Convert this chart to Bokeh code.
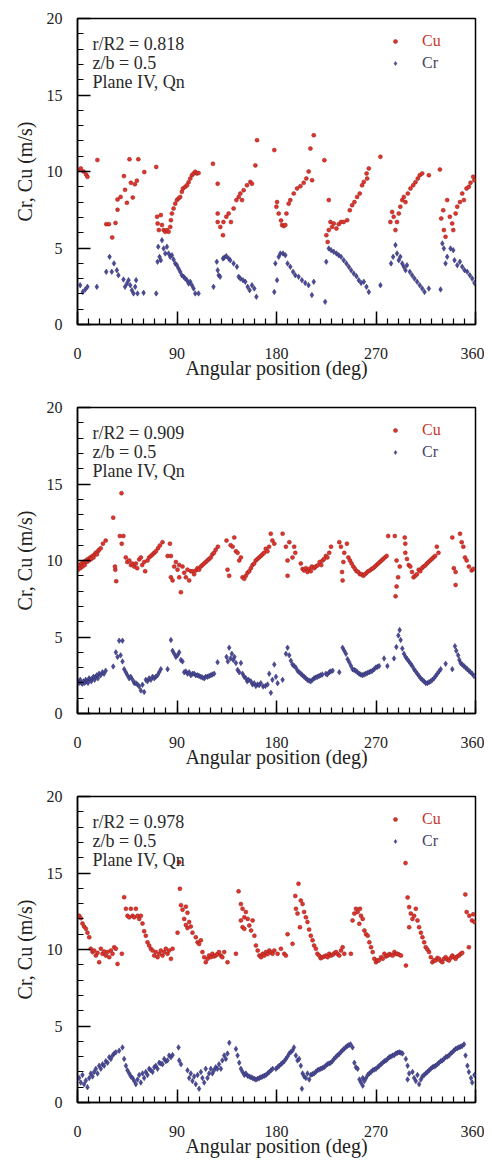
from bokeh.plotting import figure
from bokeh.models import Range1d, SingleIntervalTicker, Label, Legend, LegendItem
from bokeh.layouts import column
from bokeh.embed import file_html
from bokeh.resources import INLINE

# ---------------- data: panel 1 (r/R2 = 0.818) ----------------
cu1_deg = [1.2, 3, 5.4, 7.8, 9, 18,
           26, 28.4, 31.4, 34.4, 36.2, 36.2, 39, 42, 43, 44.7, 47, 48.3, 50, 51.9, 53.7, 55, 60.4, 71.2,
           72, 72.5, 73.6, 75.4, 76.4, 77.9, 79.4, 80.9, 82.4, 83.9, 84.5, 85.4, 86.9, 88.4, 89.9, 91.4, 92.9, 94.4, 95.4, 97.5, 99, 100.5, 102, 103.5, 105, 106.5, 108, 109.5,
           122.5, 126.8, 126.8, 126.8, 129.2, 131.6, 132, 134.6, 136.7, 138.8, 141.2, 143.7, 145.8, 147.3, 148.8, 150.3, 153.3, 156.3, 157.8, 160.9, 162.4,
           178, 179.9, 180.5, 182, 184.1, 185, 186.5, 188, 189, 191, 192.5, 195.6, 198.6, 201.6, 204.6, 207, 209.1, 210.7, 212.2, 213.7,
           223.3, 225.1, 226.3, 227.3, 227.3, 228.8, 230.3, 231.8, 234.2, 236.3, 238.4, 240.8, 243.9, 246.3, 248.4, 250.5, 252.9, 255.3, 257.4, 259, 261.5, 262, 263.5, 274,
           283, 284.6, 286, 287.6, 289, 290.6, 292, 293.7, 295.2, 296.7, 298.8, 301.2, 303.6, 305.7, 307.8, 309.6, 311.8, 317.8,
           327.8, 329, 330.8, 331.4, 332.9, 334.4, 336.8, 338.9, 339.9, 342, 343.5, 345.9, 348, 349.5, 351.9, 354, 355.5, 357.9, 359]
cu1_val = [10.1, 10.2, 10.0, 9.8, 9.65, 10.75,
           6.56, 6.56, 5.69, 6.64, 7.5, 8.17, 8.34, 9.7, 8.8, 7.95, 10.8, 9.26, 8.3, 9.17, 9.4, 10.8, 9.96, 10.3,
           7.04, 6.6, 6.17, 7.15, 6.5, 6.17, 6.06, 6.17, 6.06, 6.38, 6.82, 7.25, 7.58, 7.9, 8.13, 8.24, 8.34, 8.67, 8.89, 9.0, 9.1, 9.3, 9.54, 9.76, 9.87, 9.98, 9.87, 9.9,
           10.5, 9.2, 7.25, 6.7, 6.38, 5.84, 6.7, 7.04, 7.25, 6.7, 7.58, 8.13, 8.34, 8.56, 8.13, 8.78, 9.1, 9.32, 9.2, 10.4, 12.05,
           11.4, 7.7, 8.0, 7.25, 6.8, 6.5, 6.43, 6.5, 7.25, 7.9, 8.13, 8.56, 8.89, 9.04, 9.26, 9.54, 10.0, 11.5, 9.43, 12.37,
           10.74, 5.84, 5.4, 6.17, 8.13, 6.7, 6.38, 6.6, 6.27, 6.56, 6.7, 6.7, 6.82, 7.47, 7.8, 8.0, 8.34, 8.56, 9.1, 9.32, 9.87, 9.54, 10.2, 10.96,
           6.7, 7.36, 7.04, 6.17, 6.7, 7.25, 7.7, 8.13, 8.34, 8.0, 8.56, 8.89, 9.1, 9.3, 9.54, 9.76, 9.87, 9.76,
           10.13, 6.93, 7.47, 6.17, 5.73, 8.13, 7.04, 6.6, 6.17, 7.25, 7.7, 8.0, 8.56, 8.13, 8.89, 9.0, 9.26, 9.65, 9.43]
cr1_deg = [2.4, 4.8, 7, 9, 17.5,
           26, 29, 31, 33, 35.6, 37, 41.6, 43, 44.7, 46.2, 47.7, 49.2, 50.7, 52.2, 53, 54.3, 59.8, 71.2,
           72.4, 73, 74.2, 75.4, 76.4, 77.9, 79.4, 80.9, 82.4, 83.9, 85.4, 86.9, 88.4, 89.9, 91.4, 92.9, 94.4, 96, 97.5, 99, 100.5, 102, 103.5, 105, 106.5, 109.5,
           123, 126, 126.8, 127.7, 129, 131.6, 132.8, 134.6, 136.7, 138.2, 141.2, 144.2, 145.8, 147.3, 149.7, 151.8, 153.9, 155.7, 157.8, 159.9, 161.8,
           178, 179, 180.5, 182, 183.5, 185.9, 188, 190, 192.5, 195, 197, 200, 203, 206, 209, 212, 213.7,
           224, 225, 227.3, 229.4, 231.8, 234.2, 236.3, 238.4, 240.8, 243.2, 245.4, 247.5, 249.9, 252.3, 254.4, 256.5, 259, 261.4, 263.5, 274,
           283.6, 285.5, 287.6, 289, 290.6, 292, 293.7, 295.2, 296.7, 298, 300.6, 302.7, 304.8, 307.2, 309.6, 311.8, 313.9, 317.8,
           328.4, 330, 331.4, 332.9, 334.4, 337.4, 339.9, 341, 343.5, 345.9, 348, 350.1, 352.5, 354.9, 357, 359]
cr1_val = [2.57, 2.13, 2.29, 2.46, 2.46,
           3.44, 4.42, 3.44, 3.99, 3.55, 3.22, 2.94, 2.46, 2.68, 2.9, 2.57, 2.24, 2.03, 2.46, 2.9, 2.03, 2.07, 2.03,
           4.1, 5.08, 4.42, 4.2, 5.51, 4.97, 4.64, 5.08, 4.64, 4.42, 4.53, 4.25, 3.99, 3.88, 3.66, 3.44, 3.22, 3.12, 3.0, 2.9, 2.68, 2.79, 2.57, 2.35, 2.03, 2.03,
           2.46, 4.1, 3.55, 3.22, 3.12, 4.31, 4.38, 4.47, 4.31, 4.2, 3.99, 3.77, 3.12, 3.0, 2.9, 2.79, 2.46, 2.24, 2.57, 2.35, 1.81,
           2.13, 3.99, 2.9, 4.42, 4.64, 4.64, 4.53, 3.99, 3.77, 3.44, 3.22, 3.12, 2.9, 2.72, 2.57, 1.92, 2.79,
           1.48, 4.1, 4.97, 4.86, 4.75, 4.64, 4.53, 4.42, 4.2, 3.99, 3.77, 3.55, 3.33, 3.16, 2.9, 2.72, 2.79, 2.46, 2.13, 2.57,
           3.99, 4.42, 5.19, 4.64, 4.2, 4.42, 3.99, 3.77, 3.55, 3.88, 3.44, 3.22, 3.0, 2.79, 2.57, 2.35, 2.13, 2.35,
           2.29, 5.3, 4.97, 3.99, 4.42, 4.97, 4.86, 4.2, 3.88, 4.1, 3.77, 3.55, 3.44, 3.22, 3.0, 2.72]

# ---------------- data: panel 2 (r/R2 = 0.909) ----------------
cu2_deg = [0.5, 1.5, 2.5, 3.5, 4.5, 5.5, 6.5, 7.5, 8.5, 9.5, 10.5, 11.5, 12.5, 13.5, 14.5, 15.5, 16.5, 17.5, 18.5, 19.5, 21, 23, 25.5,
           32.3, 34.2, 33.9, 35, 38.3, 39.8, 40, 41.5,
           43.7, 45, 46.8, 48.3, 49.5, 51.3, 52.8, 54, 55.8, 57.3, 58.5, 60.3, 61.2, 63.3, 64.8, 66.4, 67.9, 69.5, 70.9, 72.8, 74.5, 76.9,
           81.5, 83.6, 84.5, 84.5, 86, 87.5, 89, 90.5, 92, 92, 93.5, 95, 96.5, 98, 99.5, 101, 102.5,
           104, 105.5, 107, 108.5, 110, 111.5, 113, 114.5, 116, 117.5, 119, 120.5, 122, 123.5, 125, 127,
           134.8, 135.7, 137.2, 138.5, 140.3, 141.8, 143.3, 144.8, 146.3, 147.8, 149.3, 150.8, 152.3, 153.8, 155.3, 156.8, 158.3, 159.8, 161.3, 162.8, 164.3, 165.8, 167.3, 168.8, 170.3, 171.8, 173.3, 174.8, 176.3,
           178, 185.5, 188.5, 190, 190, 191.6, 194.5, 196, 197,
           202, 203.6, 204.9, 206.6, 208, 209.6, 211, 212, 214, 215.5, 217, 219, 220.5, 221.7, 223, 224.7, 226, 227.7, 229.3,
           236.8, 238.3, 239.3, 239.8, 240.5, 241.3, 243.7, 245, 246.5, 248, 249.5, 251, 252.5, 254, 255.5, 257, 258.5, 260, 261.5, 263, 264.5, 266, 267.5, 269, 270.5, 272, 273.5, 275, 276.5, 278, 279.6,
           281, 287, 287.7, 288.6, 288.6, 290, 291.5, 296, 296.5, 296.5, 298, 299.6, 301, 302.6, 304, 305.5, 307, 308.6, 310, 311.5, 313, 314.5, 316, 317.5, 319, 320.5, 322, 323.5, 325, 326.5,
           339, 340.4, 342, 342, 346, 347.5, 349, 350.5, 352, 354, 356.5, 358]
cu2_val = [9.4, 9.7, 9.5, 9.8, 9.6, 9.9, 9.7, 10.0, 9.9, 10.1, 10.0, 10.2, 10.1, 10.3, 10.2, 10.4, 10.5, 10.4, 10.6, 10.7, 10.8, 11.1, 11.3,
           12.8, 9.4, 9.6, 8.65, 11.6, 14.4, 11.1, 11.6,
           10.2, 9.9, 10.0, 9.7, 9.8, 9.6, 9.8, 9.5, 10.07, 10.2, 9.7, 9.9, 9.3, 10.0, 10.2, 10.3, 10.4, 10.5, 10.6, 10.8, 10.98, 11.2,
           10.3, 11.1, 10.3, 8.9, 8.7, 9.6, 9.9, 9.4, 9.7, 8.9, 7.93, 9.6, 9.2, 8.9, 9.4, 8.7, 9.3,
           9.3, 9.1, 9.35, 9.5, 9.4, 9.6, 9.7, 9.8, 9.9, 10.0, 10.1, 10.2, 10.4, 10.5, 10.7, 10.9,
           11.3, 9.4, 9.0, 11.0, 10.9, 11.5, 10.6, 10.5, 10.0, 10.2, 8.9, 8.8, 9.0, 9.2, 9.3, 9.5, 9.7, 9.8, 10.0, 10.1, 10.2, 10.3, 10.4, 10.5, 10.76, 10.6, 10.9, 11.75, 11.3,
           11.1, 11.75, 10.9, 10.0, 9.0, 11.2, 10.2, 10.9, 10.5,
           9.8, 9.45, 9.35, 9.5, 9.25, 9.45, 9.3, 9.6, 9.5, 9.6, 9.67, 9.9, 9.7, 10.0, 10.1, 10.3, 10.2, 10.5, 10.9,
           11.2, 10.9, 9.25, 8.7, 9.9, 10.5, 11.1, 10.2, 10.0, 9.8, 9.6, 9.45, 9.3, 9.25, 9.1, 9.1, 9.0, 9.1, 9.2, 9.3, 9.35, 9.45, 9.5, 9.6, 9.7, 9.8, 9.9, 10.0, 10.1, 10.2, 10.3,
           11.6, 11.6, 7.66, 8.3, 10.0, 8.9, 9.6, 11.5, 11.1, 10.5, 10.1, 9.7, 9.6, 9.25, 8.9, 9.0, 9.1, 9.4, 9.3, 9.5, 9.6, 9.67, 9.8, 9.9, 10.0, 10.1, 10.2, 10.3, 10.9, 10.5,
           11.5, 9.5, 9.25, 8.4, 11.75, 11.2, 10.9, 10.2, 10.0, 9.6, 9.35, 9.45]
cr2_deg = [0.5, 1.5, 2.5, 3.5, 4.5, 5.5, 6.5, 7.5, 8.5, 9.5, 10.5, 11.5, 12.5, 13.5, 14.5, 15.5, 16.5, 17.5, 18.5, 19.5, 21, 22.5, 24, 25.5,
           32.3, 34.7, 36.2, 37.7, 39, 40.7, 40.7, 42.2, 43.7, 45.2, 46.7, 48.2, 49.8, 51.3, 52.8, 54.3, 55.8, 57.3, 58.8, 60.3, 61.8, 63.3, 64.8, 66.4, 67.9, 69.4, 70.9, 72.4, 73.9, 75.4, 81.5,
           84.5, 86, 87.5, 89, 90.5, 92, 93.5, 95, 96.5, 98, 99.5, 101, 102.5, 104, 105.5, 107, 108.6, 110, 111.6, 113, 114.6, 116, 117.6, 119, 120.6, 122, 123.6, 126.7,
           134.8, 136, 137.2, 138.4, 139.6, 140.9, 142, 143.3, 144.8, 146.3, 147.8, 149.3, 150.8, 152.3, 153.5, 154.7, 156.8, 158.3, 159.8, 161.3, 162.8, 164.3, 165.8, 167.9, 169.9, 171.9, 173.4, 174.9, 176.3, 178,
           179.5, 181, 185.5, 188.5, 190, 191.5, 193, 194.5, 196, 197.5, 199, 200.5, 202, 203.5, 205, 206.5, 208, 209.5, 211, 212.5, 214, 215.5, 217, 218.5, 220, 221.5, 224.7, 226, 227.7, 229, 230.8,
           236.8, 239.8, 241.3, 242.8, 244.3, 245.8, 247.3, 248.8, 250.2, 251.7, 253.2, 254.7, 256.2, 257.7, 259.2, 260.7, 262.2, 263.8, 265.3, 266.8, 268.3, 269.8, 271.3, 272.8, 277.3, 280.3,
           286.3, 288.4, 290.2, 291.4, 292.3, 293.8, 295.3, 296.8, 298.3, 299.8, 301.3, 302.8, 304.4, 305.9, 307.4, 308.9, 310.4, 311.9, 313.4, 314.9, 316.4, 317.9, 319.5, 321, 322.5, 324, 325.5, 327, 328.5, 333,
           339, 341.4, 342.6, 344.3, 345.4, 346.5, 348, 349.5, 351, 352.5, 354, 355.5, 357, 358.6]
cr2_val = [2.1, 2.0, 2.2, 2.0, 1.95, 2.1, 2.0, 2.2, 2.1, 2.0, 2.3, 2.2, 2.1, 2.3, 2.4, 2.2, 2.4, 2.5, 2.3, 2.6, 2.5, 2.7, 2.6, 2.8,
           3.07, 4.0, 3.7, 4.76, 3.8, 4.76, 3.4, 2.9, 2.7, 2.5, 2.3, 2.4, 2.2, 2.0, 1.98, 1.9, 1.77, 1.5, 1.88, 1.4, 2.2, 2.1, 2.3, 2.2, 2.4, 2.3, 2.4, 2.5, 2.7, 2.9, 2.9,
           4.8, 4.1, 3.9, 3.7, 3.8, 4.0, 3.5, 3.4, 2.7, 2.75, 2.6, 2.7, 2.5, 2.6, 2.6, 2.5, 2.5, 2.45, 2.4, 2.35, 2.3, 2.4, 2.4, 2.45, 2.5, 2.55, 2.6, 3.35,
           3.7, 3.4, 4.3, 3.6, 3.9, 3.5, 3.7, 3.3, 2.85, 2.7, 3.3, 2.6, 2.4, 2.3, 2.1, 2.2, 2.1, 1.9, 1.98, 1.8, 1.9, 1.85, 1.98, 1.77, 1.8, 1.9, 2.6, 1.35, 2.2, 3.2,
           2.4, 1.98, 2.2, 3.9, 4.3, 3.8, 3.45, 3.2, 3.1, 3.0, 2.8, 2.7, 2.6, 2.5, 2.4, 2.3, 2.2, 2.15, 2.1, 2.2, 2.3, 2.35, 2.4, 2.45, 2.5, 2.55, 2.6, 2.55, 2.7, 2.75, 2.8,
           2.7, 4.3, 4.1, 3.9, 3.55, 3.35, 3.12, 2.9, 2.85, 2.8, 2.7, 2.6, 2.55, 2.5, 2.55, 2.6, 2.65, 2.7, 2.75, 2.8, 2.9, 3.0, 3.05, 3.1, 3.6, 3.1,
           3.6, 4.35, 5.1, 5.45, 4.8, 4.25, 3.9, 3.7, 3.55, 3.4, 3.25, 3.1, 2.9, 2.75, 2.6, 2.45, 2.3, 2.2, 2.1, 2.0, 1.98, 2.05, 2.1, 2.2, 2.3, 2.45, 2.6, 2.75, 2.9, 3.25,
           2.9, 4.4, 4.1, 3.8, 3.5, 3.3, 3.2, 3.1, 3.0, 2.9, 2.8, 2.7, 2.6, 2.45]

# ---------------- data: panel 3 (r/R2 = 0.978) ----------------
cu3_deg = [1.5, 3, 4.5, 6, 7.6, 9, 10.6, 12, 13.6, 15, 16.6, 18.1, 19.6, 21.1, 22.6, 24.1, 25.6, 27.2, 28.7, 30.2, 31.7, 33.2, 34.7, 36.2, 40.1,
           42.2, 43.8, 45.2, 46.8, 48.3, 49.8, 51.3, 52.8, 54.3, 55.8, 57.3, 58.8, 60.3, 61.8, 63.3, 64.8, 66.3, 67.9, 69.4, 70.9, 72.4, 73.9, 75.4, 76.9, 78.4, 79.9, 81.4, 82.9, 84.5, 86,
           90.5, 92, 92.6, 93.6, 95, 96.5, 98, 98, 99.5, 99.5, 101, 102.5, 104, 107, 108.6, 110, 111.6, 113, 114.6, 116, 117.6, 119, 120.6, 122, 123.5, 125, 126.5, 128, 129.5, 131, 132.7, 135.7, 143.3,
           145.7, 147.8, 147.8, 149.3, 149.3, 150.9, 150.9, 152.3, 154, 155.4, 157, 158.4, 160, 161.4, 163, 164.5, 166, 167.5, 169, 170.5, 172, 173.5, 175, 176.5,
           178, 181, 184, 187, 188.5, 190, 194.5, 197, 197.6, 199, 199.9, 201.2, 202, 203.6, 205, 206.6, 208, 209.5, 211, 212.6, 214, 215.6, 217, 218.6, 220, 221.7, 223.2, 224.7, 226.2, 227.7, 229.2, 230.8, 232.3, 233.8, 235.3, 236.8, 238.3, 239.8, 241.3, 247.3,
           248.8, 250.4, 251.9, 253.4, 254.9, 255.5, 256.4, 258, 259.5, 261, 262.5, 264, 265.5, 267, 268.5, 270, 271.3, 272.6, 274.6, 276.1, 277.6, 279.1, 280.6, 282.1, 283.6, 285.1, 286.6, 288.1, 289.6, 291.1, 292.6, 297.1,
           296.7, 298.6, 300, 300, 301.5, 303, 304.5, 306, 307.5, 309, 310.6, 312, 313.6, 315, 316.5, 318, 319.6, 321, 322.5, 324, 325.5, 327, 328.5, 330, 331.5, 333, 334.5, 336, 337.5, 339, 340.5, 342, 343.5, 345, 346.5, 348, 354,
           350.8, 352, 354.4, 356.8, 358, 359]
cu3_val = [12.2, 12.05, 11.7, 11.5, 11.35, 11.1, 10.8, 10.05, 9.83, 9.93, 9.6, 9.78, 9.17, 10.05, 9.72, 9.87, 9.6, 9.83, 9.5, 9.93, 9.72, 10.15, 10.05, 9.06, 9.72,
           13.42, 12.66, 12.2, 12.1, 12.66, 12.2, 12.1, 12.66, 12.2, 12.0, 12.2, 11.7, 11.2, 10.9, 10.47, 10.26, 10.05, 9.93, 9.6, 9.83, 9.5, 9.72, 9.93, 9.6, 9.83, 10.05, 9.72, 9.93, 9.39, 10.05,
           11.1, 15.7, 13.97, 12.9, 12.6, 12.0, 12.8, 11.6, 12.4, 11.4, 11.8, 11.5, 11.1, 10.8, 10.47, 10.36, 10.6, 9.83, 9.5, 9.17, 9.39, 9.6, 9.5, 9.72, 9.55, 9.6, 9.7, 9.83, 9.6, 9.5, 9.83, 9.17, 9.72,
           13.8, 12.97, 11.9, 12.66, 11.46, 12.1, 11.35, 12.45, 12.0, 11.57, 11.24, 11.9, 10.9, 10.26, 9.93, 9.6, 9.5, 9.72, 9.6, 9.83, 9.7, 9.93, 9.8, 9.72,
           9.93, 9.72, 10.05, 9.72, 9.6, 11.0, 10.37, 13.5, 12.66, 12.35, 14.3, 11.46, 13.2, 12.97, 12.45, 12.1, 11.8, 11.3, 10.9, 10.6, 10.26, 10.05, 9.72, 9.6, 9.43, 9.5, 9.55, 9.6, 9.5, 9.72, 9.6, 9.65, 9.75, 9.83, 9.7, 9.6, 9.93, 10.15, 9.72, 9.72,
           11.9, 12.35, 12.66, 12.45, 11.68, 12.66, 12.2, 12.0, 11.24, 11.0, 10.9, 10.47, 10.15, 9.83, 9.39, 9.17, 9.3, 9.28, 9.5, 9.4, 9.72, 9.55, 9.6, 9.7, 9.65, 9.6, 9.83, 9.7, 9.72, 9.65, 9.6, 8.95,
           15.65, 13.4, 12.77, 11.46, 12.35, 12.0, 12.2, 12.66, 11.9, 11.46, 11.1, 10.8, 10.47, 10.15, 10.0, 9.83, 9.5, 9.17, 9.3, 9.28, 9.45, 9.39, 9.25, 9.17, 9.4, 9.5, 9.35, 9.28, 9.45, 9.6, 9.5, 9.39, 9.55, 9.6, 9.7, 9.78, 10.15,
           13.6, 12.45, 12.2, 11.9, 12.3, 11.8]
cr3_deg = [1.5, 3, 4.5, 6, 7.6, 9, 10.6, 12, 13.6, 15, 16.6, 18.1, 19.6, 21.1, 22.6, 24.1, 25.6, 27.2, 28.7, 30.2, 31.7, 33.2, 34.7, 37.7, 40.7,
           42.2, 43.8, 45.2, 46.8, 48.3, 49.8, 51.3, 52.8, 54.3, 55.8, 57.3, 58.8, 60.3, 61.8, 63.3, 64.8, 66.3, 67.9, 69.4, 70.9, 72.4, 73.9, 75.4, 76.9, 78.4, 79.9, 81.4, 82.9, 84.5, 86,
           91.4, 92, 93.6, 99.5, 101, 102.5, 104, 105.5, 107, 108.6, 110, 111.6, 113, 114.6, 116, 117.6, 119, 120.6, 122, 123.5, 125, 126.5, 128, 129.7, 131, 132.7, 134.2, 135.7, 137.3,
           143.3, 144.8, 146.3, 147.8, 149.3, 150.9, 152.3, 153.8, 155.4, 156.9, 158.4, 159.9, 161.4, 163, 164.5, 166, 167.5, 169, 170.5, 172, 173.5, 175, 176.5,
           179.5, 181, 182.5, 184, 185.5, 187, 188.5, 190, 191.5, 193, 194.5, 195.8, 197.5, 199, 200.5, 202, 203, 203.6, 205, 206.6, 208, 209.6, 211, 212.5, 214, 215.5, 217, 218.5, 220, 221.5, 223, 224.5, 226, 227.5, 229, 230.5, 232, 233.5, 235, 236.5, 238, 239.5, 241, 242.5, 244, 245.5, 247, 248.8,
           250.4, 251.9, 253.4, 255, 256.4, 258, 258, 259.5, 261, 262.5, 264, 265.5, 267, 268.5, 270, 271.5, 273, 274.5, 276, 277.5, 279, 280.5, 282, 283.5, 285, 286.5, 288, 289.5, 291, 292.5, 294, 297,
           298.6, 298.6, 300, 303, 304.5, 306, 307.5, 309, 310.6, 312, 313.5, 315, 316.5, 318, 319.5, 321, 322.5, 324, 325.5, 327, 328.5, 330, 331.5, 333, 334.5, 336, 337.5, 339, 340.5, 342, 343.5, 345, 346.5, 348, 349.6,
           351, 352.7, 354, 355.9, 357, 359]
cr3_val = [1.6, 1.3, 1.8, 1.2, 1.44, 1.0, 1.6, 1.9, 1.7, 2.0, 2.2, 1.9, 2.4, 2.2, 2.5, 2.4, 2.7, 2.6, 2.96, 2.85, 3.07, 3.2, 3.28, 3.39, 3.6,
           2.85, 2.4, 2.1, 1.9, 1.7, 1.6, 1.4, 1.2, 1.5, 1.8, 1.3, 1.9, 1.6, 2.0, 1.8, 2.2, 2.1, 2.0, 2.3, 2.4, 2.2, 2.6, 2.55, 2.5, 2.85, 2.7, 2.75, 3.07, 2.96, 3.1,
           3.6, 2.75, 2.5, 2.1, 1.6, 1.9, 1.4, 1.7, 1.2, 1.8, 0.9, 2.0, 1.6, 1.3, 2.2, 1.6, 1.9, 2.2, 1.9, 2.1, 2.3, 2.2, 2.5, 2.2, 2.75, 3.07, 2.85, 3.2, 3.9,
           3.5, 3.07, 2.6, 2.2, 2.0, 1.8, 1.9, 1.75, 1.7, 1.65, 1.6, 1.55, 1.5, 1.55, 1.6, 1.65, 1.7, 1.75, 1.8, 1.9, 2.0, 2.1, 2.2,
           2.2, 2.3, 2.4, 2.5, 2.6, 2.7, 2.85, 3.0, 3.2, 3.3, 3.4, 3.6, 3.07, 2.75, 2.85, 2.4, 0.9, 1.9, 1.7, 1.6, 1.9, 1.5, 1.8, 1.85, 1.9, 2.0, 2.1, 2.15, 2.2, 2.25, 2.3, 2.4, 2.5, 2.55, 2.6, 2.7, 2.85, 2.95, 3.07, 3.15, 3.28, 3.4, 3.5, 3.6, 3.7, 3.75, 3.8, 3.6,
           2.6, 2.3, 2.2, 1.5, 1.3, 1.1, 1.6, 1.4, 1.6, 1.8, 1.9, 2.0, 2.1, 2.15, 2.2, 2.3, 2.4, 2.5, 2.6, 2.7, 2.75, 2.85, 2.96, 3.0, 3.07, 3.1, 3.2, 3.25, 3.28, 3.25, 3.2, 2.85,
           2.4, 1.5, 1.9, 2.0, 1.6, 1.4, 1.8, 1.2, 1.5, 1.7, 1.8, 1.9, 2.0, 2.1, 2.2, 2.3, 2.35, 2.4, 2.5, 2.6, 2.7, 2.75, 2.85, 2.96, 3.0, 3.07, 3.2, 3.28, 3.4, 3.5, 3.55, 3.6, 3.65, 3.7, 3.8,
           3.07, 2.4, 2.0, 1.6, 1.3, 1.8]

panel_ratios = ["0.818", "0.909", "0.978"]
info_lines = ["z/b = 0.5", "Plane IV, Qn"]
x_title = "Angular position (deg)"
y_title = "Cr, Cu (m/s)"

FONT = "Liberation Serif"
CU_FILL, CU_LINE = "#e3342a", "#8a1e1e"
CR_FILL, CR_LINE = "#4b4b9e", "#28285a"


def make_panel(ratio, cu_x, cu_y, cr_x, cr_y, height, bottom):
    p = figure(width=484, height=height, output_backend="svg", toolbar_location=None,
               x_range=Range1d(0, 360), y_range=Range1d(0, 20),
               min_border_left=77, min_border_right=9, min_border_top=18,
               min_border_bottom=bottom)
    p.grid.visible = False
    p.outline_line_color = "black"
    p.outline_line_width = 1.5
    p.outline_line_alpha = 1.0
    p.background_fill_color = "white"

    cu = p.scatter(cu_x, cu_y, marker="circle", size=4, fill_color=CU_FILL,
                   line_color=CU_LINE, line_width=0.5)
    cr = p.scatter(cr_x, cr_y, marker="diamond", size=5.5, fill_color=CR_FILL,
                   line_color=CR_LINE, line_width=0.5)

    xa, ya = p.xaxis[0], p.yaxis[0]
    xa.ticker = SingleIntervalTicker(interval=90, num_minor_ticks=9)
    ya.ticker = SingleIntervalTicker(interval=5, num_minor_ticks=5)
    xa.axis_label = x_title
    ya.axis_label = y_title
    for ax in (xa, ya):
        ax.major_tick_in = 13
        ax.major_tick_out = 0
        ax.minor_tick_in = 6
        ax.minor_tick_out = 0
        ax.axis_line_width = 1.5
        ax.major_tick_line_width = 1.5
        ax.minor_tick_line_width = 1.2
        ax.major_label_text_font = FONT
        ax.major_label_text_font_size = "16px"
        ax.major_label_text_color = "#222222"
        ax.axis_label_text_font = FONT
        ax.axis_label_text_font_size = "20px"
        ax.axis_label_text_font_style = "normal"
        ax.axis_label_text_color = "#222222"
    xa.major_label_standoff = 23
    xa.axis_label_standoff = -5
    ya.major_label_standoff = 15
    ya.axis_label_standoff = 8

    lines = ["r/R2 = " + ratio] + info_lines
    for i, t in enumerate(lines):
        p.add_layout(Label(x=15, y=281 - 19 * i, x_units="screen", y_units="screen",
                           text=t, text_font=FONT, text_font_size="18px",
                           text_color="#2a2a2a", text_baseline="alphabetic"))

    for rend, name, col, vy in ((cu, "Cu", "#c8352c", 273), (cr, "Cr", "#444466", 251)):
        leg = Legend(items=[LegendItem(label=name, renderers=[rend])],
                     location=(313, vy), padding=0, margin=0, spacing=0,
                     glyph_width=10, glyph_height=10, label_height=20,
                     label_standoff=22, border_line_color=None,
                     background_fill_alpha=0.0,
                     label_text_font=FONT, label_text_font_size="16px",
                     label_text_color=col)
        p.add_layout(leg)
    return p


p1 = make_panel(panel_ratios[0], cu1_deg, cu1_val, cr1_deg, cr1_val, 389, 65)
p2 = make_panel(panel_ratios[1], cu2_deg, cu2_val, cr2_deg, cr2_val, 389, 65)
p3 = make_panel(panel_ratios[2], cu3_deg, cu3_val, cr3_deg, cr3_val, 385, 61)

layout = column(p1, p2, p3, spacing=0)
open("out.html", "w").write(file_html(layout, INLINE))
